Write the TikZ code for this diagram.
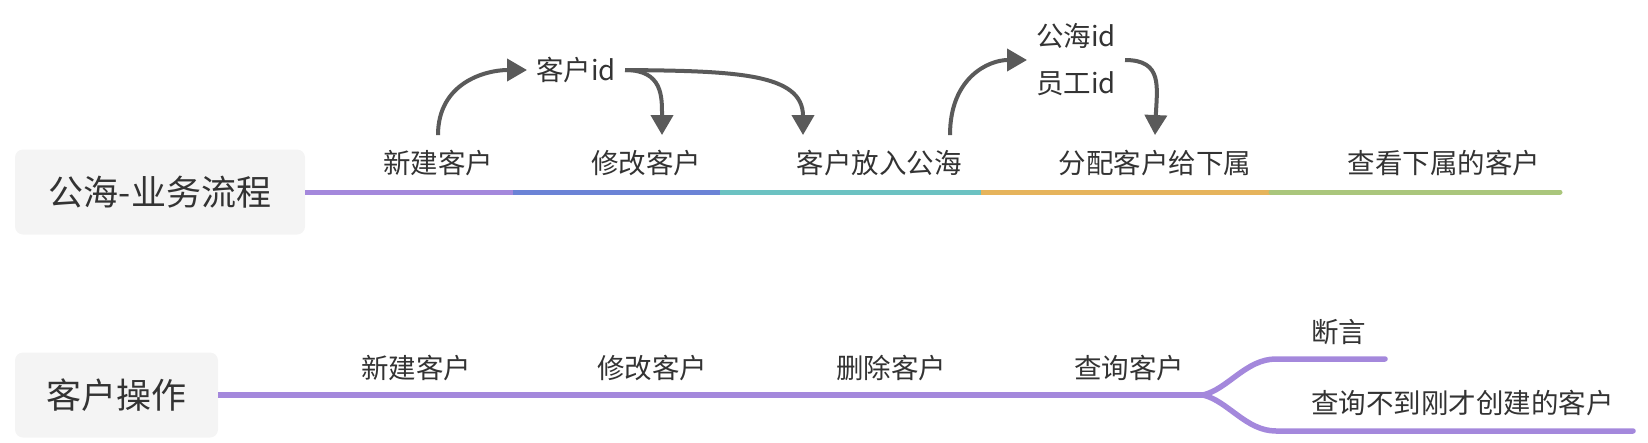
\documentclass[tikz,border=0pt]{standalone}
\usepackage{fontspec}
\newfontfamily\cjk{Noto Sans CJK SC}
\usetikzlibrary{arrows.meta}
\definecolor{cPur}{HTML}{A488DC}
\definecolor{cBlu}{HTML}{6B83D6}
\definecolor{cTea}{HTML}{6CC2C2}
\definecolor{cOra}{HTML}{E6B45C}
\definecolor{cGre}{HTML}{AAC67C}
\definecolor{boxbg}{HTML}{F4F4F4}
\definecolor{txt}{HTML}{333333}
\definecolor{arrc}{HTML}{5A5A5A}
\begin{document}
\begin{tikzpicture}[x=1pt,y=1pt,
  lbl/.style={font=\cjk\fontsize{27.5}{33}\selectfont, text=txt, inner sep=0pt, text height=24pt, text depth=3.5pt},
  root/.style={font=\cjk\fontsize{35}{42}\selectfont, text=txt, fill=boxbg, rounded corners=8pt, inner sep=0pt, minimum height=85pt},
  seg/.style={line width=5pt},
  seg2/.style={line width=5.5pt, draw=cPur},
  arr/.style={draw=arrc, line width=4pt, -{Triangle[length=20pt,width=22pt]}},
]
\useasboundingbox (0,0) rectangle (1648,-442);

% ---- row 1 ----
\node[root, minimum width=290pt] (r1) at (160,-192) {公海-业务流程};
\coordinate (a1) at (513,-192);
\coordinate (a2) at (720,-192);
\coordinate (a3) at (981,-192);
\coordinate (a4) at (1271,-192);
\coordinate (a5) at (1560,-192);
\draw[seg, draw=cPur] (r1.east) -- (a1);
\draw[seg, draw=cBlu] (a1) -- (a2);
\draw[seg, draw=cTea] (a2) -- (a3);
\draw[seg, draw=cOra] (a3) -- (a4);
\draw[seg, draw=cGre, line cap=round] (a4) -- (a5);

\node[lbl] (L1) at (438,-163) {新建客户};
\node[lbl] (L2) at (646,-163) {修改客户};
\node[lbl] (L3) at (879,-163) {客户放入公海};
\node[lbl] (L4) at (1155,-163) {分配客户给下属};
\node[lbl] (L5) at (1444,-163) {查看下属的客户};

\node[lbl, anchor=west] (id1) at (536,-70) {客户id};
\node[font=\cjk\fontsize{27.5}{47}\selectfont, text=txt, inner sep=0pt, align=left, anchor=west] (ph) at (1036,-60) {公海id\\员工id};

\draw[arr] ([yshift=14pt]L1.north) .. controls +(0,52) and +(-42,0) .. ([xshift=-9pt]id1.west);
\draw[arr] ([xshift=9pt]id1.east) .. controls +(38,0) and +(0,38) .. ([shift={(16pt,14pt)}]L2.north);
\draw[arr] ([xshift=9pt]id1.east) .. controls +(110,-1) and +(0,62) .. ([shift={(-76pt,14pt)}]L3.north);
\draw[arr] ([shift={(71pt,14pt)}]L3.north) .. controls +(0,58) and +(-38,0) .. ([xshift=-9pt]ph.west);
\draw[arr] ([xshift=9pt]ph.east) .. controls +(38,0) and +(2,48) .. ([yshift=14pt]L4.north);

% ---- row 2 ----
\node[root, minimum width=203pt] (r2) at (116.5,-395) {客户操作};
\coordinate (b1) at (486,-395);
\coordinate (b2) at (724,-395);
\coordinate (b3) at (962,-395);
\coordinate (J) at (1203,-395);
\coordinate (uk) at (1276,-359);
\coordinate (ue) at (1385,-359);
\coordinate (dk) at (1276,-431);
\coordinate (de) at (1633,-431);
\draw[seg2] (r2.east) -- (b1) -- (b2) -- (b3) -- (J);
\draw[seg2, line cap=round] (J) .. controls +(25,6) and +(-30,0) .. (uk) -- (ue);
\draw[seg2, line cap=round] (J) .. controls +(25,-6) and +(-30,0) .. (dk) -- (de);

\node[lbl] (M1) at (416,-368) {新建客户};
\node[lbl] (M2) at (652,-368) {修改客户};
\node[lbl] (M3) at (891,-368) {删除客户};
\node[lbl] (M4) at (1129,-368) {查询客户};
\node[lbl, anchor=west] (N1) at (1311,-332) {断言};
\node[lbl, anchor=west] (N2) at (1311,-403) {查询不到刚才创建的客户};
\end{tikzpicture}
\end{document}
